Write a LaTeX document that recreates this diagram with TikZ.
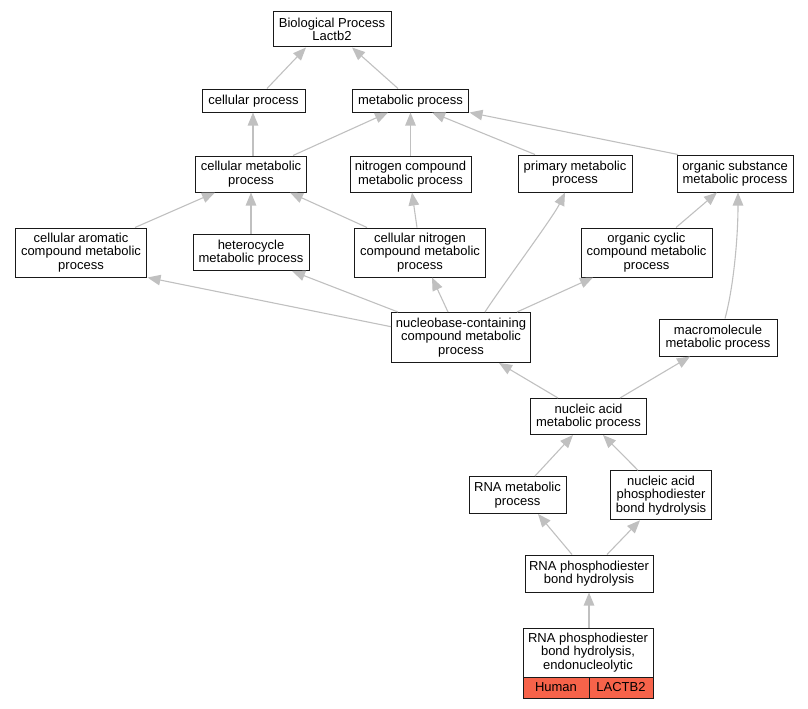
\documentclass[tikz,border=0pt]{standalone}
\usepackage{fontspec}
\setmainfont{Liberation Sans}
\usetikzlibrary{arrows.meta}
\definecolor{edgegray}{RGB}{192,192,192}
\definecolor{genered}{RGB}{247,99,74}
\begin{document}
\begin{tikzpicture}[x=1pt,y=-1pt,
  gobox/.style={draw=black!90, line width=1pt, align=center, inner sep=0pt, fill=white,
    font=\fontsize{13}{13.5}\selectfont},
  onebox/.style={gobox, text height=9.5pt, text depth=1.5pt},
  genebox/.style={onebox, fill=genered},
  isa/.style={draw=edgegray, line width=1.1pt, -{Triangle[length=13pt,width=10.5pt]}}]
\useasboundingbox (0,0) rectangle (808,709);
% nodes
\node[gobox, minimum width=118, minimum height=35] (bp) at (332,29.5) {Biological Process\\Lactb2};
\node[onebox, minimum width=103, minimum height=23] (cp) at (253.5,100.5) {cellular process};
\node[onebox, minimum width=116, minimum height=23] (mp) at (410.5,100.5) {metabolic process};
\node[gobox, minimum width=111, minimum height=36] (cmp) at (251,174) {cellular metabolic\\process};
\node[gobox, minimum width=121, minimum height=36] (ncmp) at (410.5,174) {nitrogen compound\\metabolic process};
\node[gobox, minimum width=114, minimum height=37] (pmp) at (575,173.5) {primary metabolic\\process};
\node[gobox, minimum width=116, minimum height=37] (osmp) at (735,173.5) {organic substance\\metabolic process};
\node[gobox, minimum width=131, minimum height=49] (cacmp) at (81,252.5) {cellular aromatic\\compound metabolic\\process};
\node[gobox, minimum width=116, minimum height=36] (hmp) at (251,252.5) {heterocycle\\metabolic process};
\node[gobox, minimum width=131, minimum height=49] (cncmp) at (420,252.5) {cellular nitrogen\\compound metabolic\\process};
\node[gobox, minimum width=131, minimum height=49] (occmp) at (646.5,252.5) {organic cyclic\\compound metabolic\\process};
\node[gobox, minimum width=139, minimum height=50] (nbc) at (461,337.5) {nucleobase-containing\\compound metabolic\\process};
\node[gobox, minimum width=118, minimum height=37] (mmp) at (718,337.5) {macromolecule\\metabolic process};
\node[gobox, minimum width=116, minimum height=36] (nap) at (588.5,416.5) {nucleic acid\\metabolic process};
\node[gobox, minimum width=97, minimum height=37] (rmp) at (517.5,495) {RNA metabolic\\process};
\node[gobox, minimum width=101, minimum height=49] (naph) at (661,495.3) {nucleic acid\\phosphodiester\\bond hydrolysis};
\node[gobox, minimum width=128, minimum height=37] (rph) at (589,573.5) {RNA phosphodiester\\bond hydrolysis};
\node[gobox, minimum width=130, minimum height=49] (leaf) at (588,652.5) {RNA phosphodiester\\bond hydrolysis,\\endonucleolytic};
\node[genebox, minimum width=66, minimum height=21] (human) at (556,687.5) {Human};
\node[genebox, minimum width=64, minimum height=21] (lactb) at (621,687.5) {LACTB2};
% edges
\draw[isa] ([xshift=13.5]cp.north) -- ([xshift=-26]bp.south);
\draw[isa] ([xshift=-12.5]mp.north) -- ([xshift=20]bp.south);
\draw[isa] ([xshift=2]cmp.north) -- ([xshift=-0.5]cp.south);
\draw[isa] ([xshift=42]cmp.north) -- ([xshift=-22.5]mp.south);
\draw[isa] (ncmp.north) -- (mp.south);
\draw[isa] ([xshift=-40]pmp.north) -- ([xshift=21.5]mp.south);
\draw[isa] ([xshift=-57]osmp.north) -- ([xshift=0.5]mp.south east);
\draw[isa] ([xshift=54]cacmp.north) -- ([xshift=-36]cmp.south);
\draw[isa] (hmp.north) -- (cmp.south);
\draw[isa] ([xshift=-53]cncmp.north) -- ([xshift=39]cmp.south);
\draw[isa] ([xshift=-3]cncmp.north) -- ([xshift=1.5]ncmp.south);
\draw[isa] ([xshift=29.5]occmp.north) -- ([xshift=-18]osmp.south);
\draw[isa] ([yshift=10.8]nbc.west) -- ([xshift=0.5]cacmp.south east);
\draw[isa] ([xshift=-63]nbc.north) -- ([xshift=41]hmp.south);
\draw[isa] ([xshift=-13]nbc.north) -- ([xshift=12]cncmp.south);
\draw[isa] ([xshift=24]nbc.north) .. controls +(14,-22) and +(-12,25) .. ([xshift=-10]pmp.south);
\draw[isa] ([xshift=56]nbc.north) -- ([xshift=-53.5]occmp.south);
\draw[isa] ([xshift=7]mmp.north) .. controls +(8,-29) and +(0,48) .. ([xshift=3]osmp.south);
\draw[isa] ([xshift=-30.5]nap.north) -- ([xshift=38]nbc.south);
\draw[isa] ([xshift=31.5]nap.north) -- ([xshift=-28]mmp.south);
\draw[isa] ([xshift=17.5]rmp.north) -- ([xshift=-15.5]nap.south);
\draw[isa] ([xshift=-23]naph.north) -- ([xshift=14.5]nap.south);
\draw[isa] ([xshift=-17]rph.north) -- ([xshift=20.5]rmp.south);
\draw[isa] ([xshift=18]rph.north) -- ([xshift=-21]naph.south);
\draw[isa] ([xshift=1]leaf.north) -- (rph.south);
\end{tikzpicture}
\end{document}
